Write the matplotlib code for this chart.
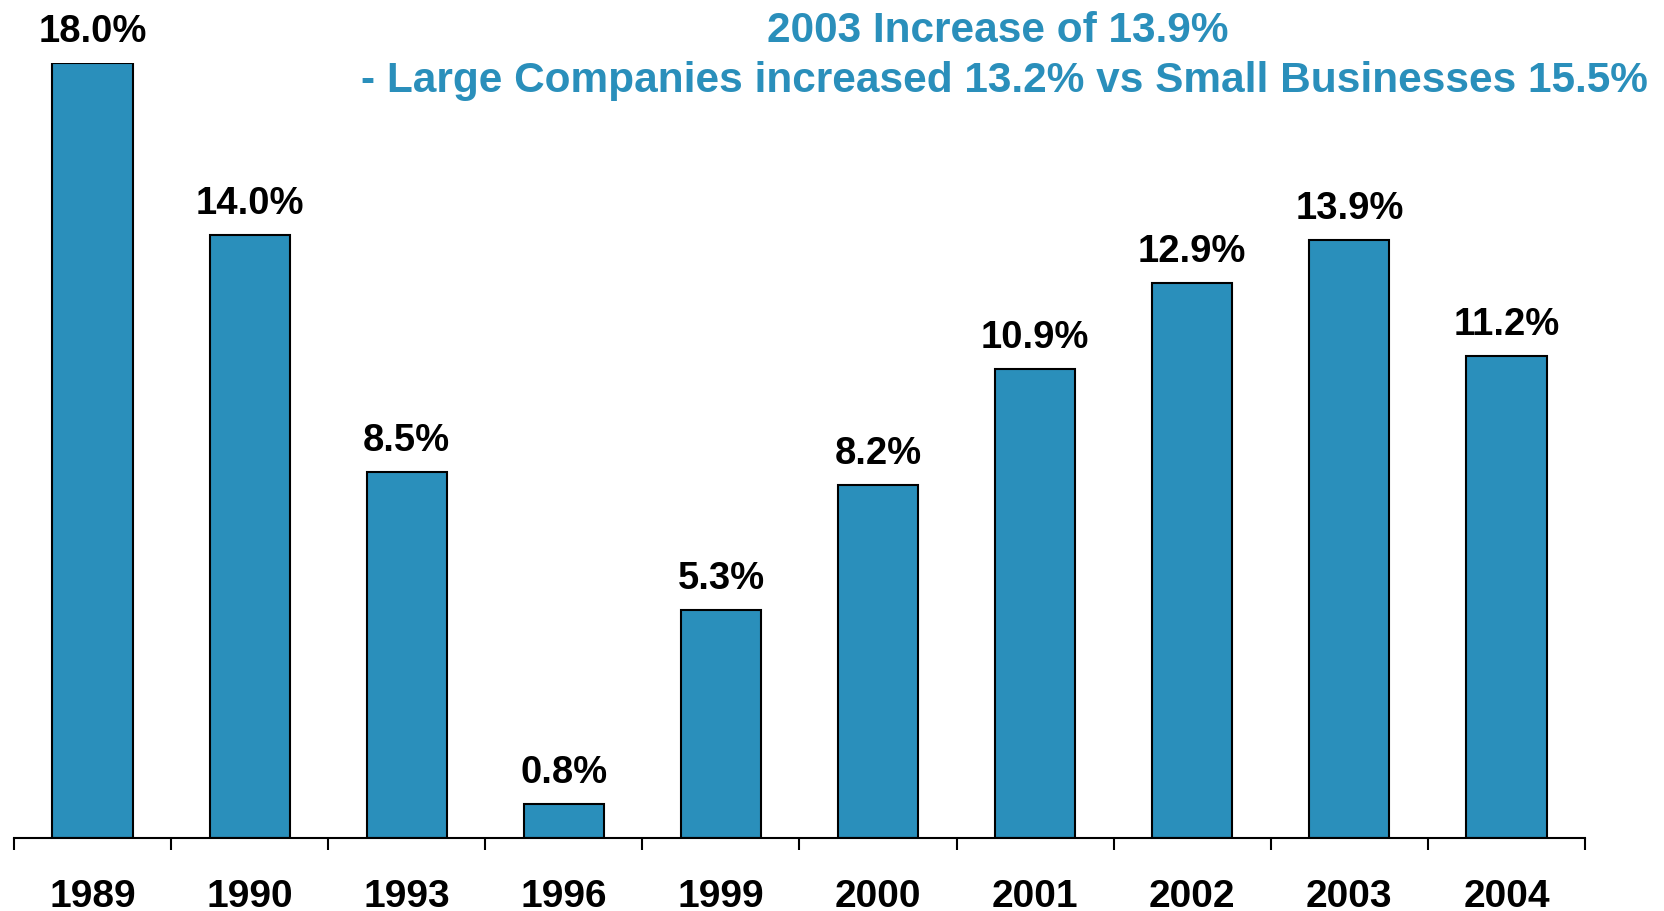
import matplotlib
matplotlib.use("Agg")
import matplotlib.pyplot as plt

# data
years = ['1989', '1990', '1993', '1996', '1999', '2000', '2001', '2002', '2003', '2004']
increase = [18.0, 14.0, 8.5, 0.8, 5.3, 8.2, 10.9, 12.9, 13.9, 11.2]
title_1 = '2003 Increase of 13.9%'
title_2 = '- Large Companies increased 13.2% vs Small Businesses 15.5%'

blue = '#2a8fbb'
plt.rcParams['font.family'] = ['Liberation Sans', 'DejaVu Sans']

fig = plt.figure(figsize=(16.65, 9.11), dpi=100)
ax = fig.add_axes([14 / 1665, 1 - 838 / 911, 1571 / 1665, 775 / 911])

x = list(range(len(years)))
ax.bar(x, increase, width=0.51, color=blue, edgecolor='black', linewidth=1.5, zorder=2)

for xi, v in zip(x, increase):
    ax.annotate('{:.1f}%'.format(v), (xi, v), xytext=(0, 15), textcoords='offset points',
                ha='center', va='baseline', fontsize=27.5, fontweight='bold')

ax.set_xlim(-0.5, len(years) - 0.5)
ax.set_ylim(0, 18.0)

for s in ['top', 'right', 'left']:
    ax.spines[s].set_visible(False)
ax.spines['bottom'].set_linewidth(1.5)
ax.spines['bottom'].set_zorder(3)
ax.set_yticks([])

ax.set_xticks(x)
ax.set_xticklabels(years, fontsize=28, fontweight='bold')
ax.tick_params(axis='x', which='major', length=0, pad=29.5)
ax.set_xticks([i - 0.5 for i in range(len(years) + 1)], minor=True)
ax.tick_params(axis='x', which='minor', length=8.6, width=1.5, direction='out')

fig.text(998 / 1665, 1 - 42 / 911, title_1, ha='center', va='baseline',
         fontsize=30.5, fontweight='bold', color=blue)
fig.text(1004 / 1665, 1 - 92 / 911, title_2, ha='center', va='baseline',
         fontsize=30.5, fontweight='bold', color=blue)

fig.savefig('out.png', dpi=100)
